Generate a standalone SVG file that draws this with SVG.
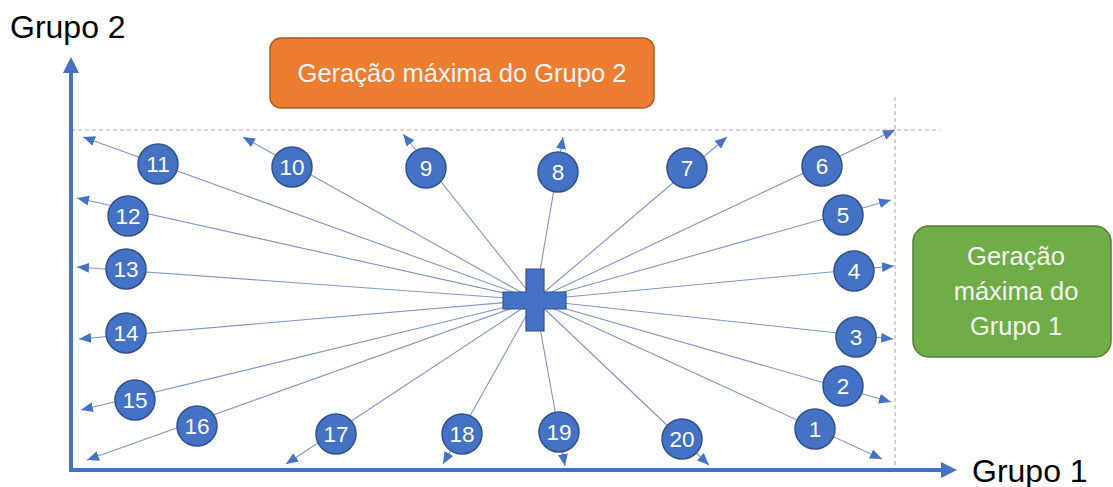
<svg xmlns="http://www.w3.org/2000/svg" width="1113" height="487" viewBox="0 0 1113 487">
<style>
.ray{stroke:#8095c8;stroke-width:1.1;fill:none;marker-end:url(#tip)}
.axis{stroke:#4472c4;stroke-width:4;fill:none;marker-end:url(#axtip)}
.num circle{fill:#4472c4;stroke:#2f528f;stroke-width:1.5}
.num text{fill:#fff;font-family:"Liberation Sans",Arial,sans-serif;font-size:22.5px;text-anchor:middle}
.lbl{font-family:"Liberation Sans",Arial,sans-serif;font-size:32px;fill:#000}
.box text{font-family:"Liberation Sans",Arial,sans-serif;font-size:25.5px;fill:#f4f4f4;text-anchor:middle}
</style>
<defs>
<marker id="tip" markerUnits="userSpaceOnUse" markerWidth="13" markerHeight="11" refX="12" refY="5" orient="auto"><path d="M0,0 L12,5 L0,10 z" fill="#4472c4"/></marker>
<marker id="axtip" markerUnits="userSpaceOnUse" markerWidth="17" markerHeight="17" refX="3" refY="8" orient="auto"><path d="M0,0 L16,8 L0,16 z" fill="#4472c4"/></marker>
</defs>
<rect width="1113" height="487" fill="#fff"/>
<g id="guides">
<line x1="71" y1="130" x2="940" y2="130" stroke="#c9a597" stroke-width="1" stroke-dasharray="4 3"/>
<line x1="895" y1="97" x2="895" y2="470" stroke="#a8a894" stroke-width="1" stroke-dasharray="4 3"/>
</g>
<g id="axes">
<line class="axis" x1="71" y1="472" x2="71" y2="70"/>
<line class="axis" x1="69" y1="470" x2="944" y2="470"/>
<text class="lbl" x="10" y="38">Grupo 2</text>
<text class="lbl" x="972" y="482">Grupo 1</text>
</g>
<g id="connectors">
<line class="ray" x1="535" y1="300" x2="882" y2="459"/>
<line class="ray" x1="535" y1="300" x2="891" y2="402"/>
<line class="ray" x1="535" y1="300" x2="893" y2="339"/>
<line class="ray" x1="535" y1="300" x2="894" y2="266"/>
<line class="ray" x1="535" y1="300" x2="891" y2="200"/>
<line class="ray" x1="535" y1="300" x2="895" y2="130"/>
<line class="ray" x1="535" y1="300" x2="727" y2="137"/>
<line class="ray" x1="535" y1="300" x2="563" y2="137"/>
<line class="ray" x1="535" y1="300" x2="403" y2="134"/>
<line class="ray" x1="535" y1="300" x2="243" y2="137"/>
<line class="ray" x1="535" y1="300" x2="83" y2="137"/>
<line class="ray" x1="535" y1="300" x2="77" y2="198"/>
<line class="ray" x1="535" y1="300" x2="77" y2="267"/>
<line class="ray" x1="535" y1="300" x2="79" y2="339"/>
<line class="ray" x1="535" y1="300" x2="81" y2="410"/>
<line class="ray" x1="535" y1="300" x2="87" y2="460"/>
<line class="ray" x1="535" y1="300" x2="286" y2="464"/>
<line class="ray" x1="535" y1="300" x2="443" y2="464"/>
<line class="ray" x1="535" y1="300" x2="565" y2="466"/>
<line class="ray" x1="535" y1="300" x2="709" y2="465"/>
</g>
<g id="origin">
<path d="M526,269 H544 V292 H566 V309 H544 V331 H526 V309 H503 V292 H526 Z" fill="#4472c4" stroke="#2f528f" stroke-width="1.2"/>
</g>
<g id="n1" class="num"><circle cx="815" cy="429" r="20"/><text x="815" y="437">1</text></g>
<g id="n2" class="num"><circle cx="843" cy="386" r="20"/><text x="843" y="394">2</text></g>
<g id="n3" class="num"><circle cx="856" cy="337" r="20"/><text x="856" y="345">3</text></g>
<g id="n4" class="num"><circle cx="854" cy="271" r="20"/><text x="854" y="279">4</text></g>
<g id="n5" class="num"><circle cx="843" cy="215" r="20"/><text x="843" y="223">5</text></g>
<g id="n6" class="num"><circle cx="822" cy="166" r="20"/><text x="822" y="174">6</text></g>
<g id="n7" class="num"><circle cx="687" cy="168" r="20"/><text x="687" y="176">7</text></g>
<g id="n8" class="num"><circle cx="558" cy="172" r="20"/><text x="558" y="180">8</text></g>
<g id="n9" class="num"><circle cx="426" cy="168" r="20"/><text x="426" y="176">9</text></g>
<g id="n10" class="num"><circle cx="292" cy="167" r="20"/><text x="292" y="175">10</text></g>
<g id="n11" class="num"><circle cx="158" cy="164" r="20"/><text x="158" y="172">11</text></g>
<g id="n12" class="num"><circle cx="128" cy="216" r="20"/><text x="128" y="224">12</text></g>
<g id="n13" class="num"><circle cx="126" cy="269" r="20"/><text x="126" y="277">13</text></g>
<g id="n14" class="num"><circle cx="126" cy="333" r="20"/><text x="126" y="341">14</text></g>
<g id="n15" class="num"><circle cx="135" cy="400" r="20"/><text x="135" y="408">15</text></g>
<g id="n16" class="num"><circle cx="197" cy="426" r="20"/><text x="197" y="434">16</text></g>
<g id="n17" class="num"><circle cx="336" cy="434" r="20"/><text x="336" y="442">17</text></g>
<g id="n18" class="num"><circle cx="462" cy="434" r="20"/><text x="462" y="442">18</text></g>
<g id="n19" class="num"><circle cx="559" cy="432" r="20"/><text x="559" y="440">19</text></g>
<g id="n20" class="num"><circle cx="682" cy="439" r="20"/><text x="682" y="447">20</text></g>
<g id="max2" class="box">
<rect x="270" y="38" width="384" height="70" rx="11" fill="#ed7d31" stroke="#ae5a21" stroke-width="1.5"/>
<text x="462" y="82">Geração máxima do Grupo 2</text>
</g>
<g id="max1" class="box">
<rect x="913" y="226" width="198" height="131" rx="16" fill="#70ad47" stroke="#507e32" stroke-width="1.5"/>
<text x="1016" y="265">Geração</text>
<text x="1016" y="300">máxima do</text>
<text x="1016" y="335">Grupo 1</text>
</g>
</svg>
